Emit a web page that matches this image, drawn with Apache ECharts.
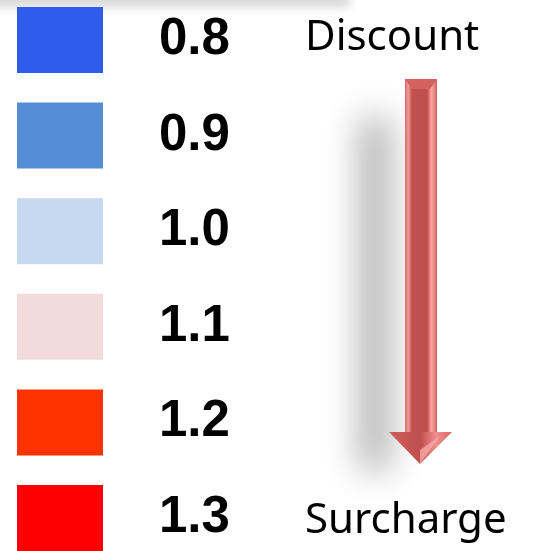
<!DOCTYPE html>
<html>
<head>
<meta charset="utf-8">
<script src="https://cdn.jsdelivr.net/npm/echarts@6/dist/echarts.min.js"></script>
<style>
  html, body { margin: 0; padding: 0; background: #fff; }
  #chart { width: 551px; height: 551px; }
</style>
</head>
<body>
<div id="chart"></div>
<script>
// legend rows, top to bottom
const factors = ['0.8', '0.9', '1.0', '1.1', '1.2', '1.3'];
const factorColors = ['#2F5CEA', '#558ED5', '#C6D9F1', '#F2DCDB', '#FF3300', '#FF0000'];
const topLabel = 'Discount';
const bottomLabel = 'Surcharge';

const chart = echarts.init(document.getElementById('chart'));

// bevelled shaft gradient (left -> right)
const shaftFill = new echarts.graphic.LinearGradient(0, 0, 1, 0, [
  { offset: 0, color: '#d46a67' },
  { offset: 0.1, color: '#f29a98' },
  { offset: 0.22, color: '#c0504d' },
  { offset: 0.7, color: '#c0504d' },
  { offset: 0.82, color: '#ffa3a3' },
  { offset: 0.92, color: '#e68785' },
  { offset: 1, color: '#c4615e' },
]);

const option = {
  animation: false,
  grid: { left: 60, right: 0, top: 40, bottom: 33 },
  xAxis: { type: 'value', min: 0, max: 1, show: false },
  yAxis: {
    type: 'category',
    data: factors,
    inverse: true,
    boundaryGap: false,
    show: false,
  },
  series: [
    {
      type: 'scatter',
      symbol: 'rect',
      symbolSize: [86, 66],
      itemStyle: { opacity: 1 },
      data: factors.map((f, i) => ({
        value: [0, f],
        itemStyle: { color: factorColors[i], opacity: 1 },
      })),
      label: {
        show: true,
        position: 'right',
        distance: 56,
        formatter: (p) => p.value[1],
        color: '#000',
        opacity: 1,
        fontFamily: 'Liberation Sans, Arial, sans-serif',
        fontWeight: 'bold',
        fontSize: 51,
      },
    },
  ],
  graphic: [
    // faint shadow along the top edge
    {
      type: 'rect',
      shape: { x: -20, y: -1030, width: 370, height: 18 },
      style: { fill: '#000', shadowBlur: 10, shadowColor: 'rgba(0,0,0,0.14)', shadowOffsetY: 1020 },
      silent: true,
    },
    // blurred arrow shadow (shape kept off-canvas, only its shadow shows)
    {
      type: 'rect',
      shape: { x: -1000 + 360, y: 118, width: 30, height: 352 },
      style: { fill: '#000', shadowBlur: 34, shadowColor: 'rgba(0,0,0,0.32)', shadowOffsetX: 1000 },
      silent: true,
    },
    {
      type: 'text',
      x: 305,
      y: 38,
      style: {
        text: topLabel,
        font: '42px "Noto Sans", sans-serif',
        fill: '#000',
        verticalAlign: 'middle',
      },
    },
    {
      type: 'text',
      x: 305,
      y: 521,
      style: {
        text: bottomLabel,
        font: '42px "Noto Sans", sans-serif',
        fill: '#000',
        verticalAlign: 'middle',
      },
    },
    // arrow shaft
    {
      type: 'rect',
      shape: { x: 405, y: 79, width: 32, height: 356 },
      style: { fill: shaftFill },
    },
    // top bevel
    {
      type: 'polygon',
      shape: { points: [[405, 79], [437, 79], [430, 89], [412, 89]] },
      style: { fill: '#d3625f' },
    },
    // arrow head
    {
      type: 'polygon',
      shape: { points: [[389, 432], [452, 432], [420, 464]] },
      style: {
        fill: new echarts.graphic.LinearGradient(0, 0, 1, 0, [
          { offset: 0, color: '#cf5e5b' },
          { offset: 0.5, color: '#c0504d' },
          { offset: 0.75, color: '#ef8f8d' },
          { offset: 1, color: '#d66a67' },
        ]),
      },
    },
    {
      type: 'polygon',
      shape: { points: [[420, 450], [440, 436], [420, 464]] },
      style: { fill: '#f7a9a7', opacity: 0.8 },
    },
  ],
};

chart.setOption(option);
</script>
</body>
</html>
